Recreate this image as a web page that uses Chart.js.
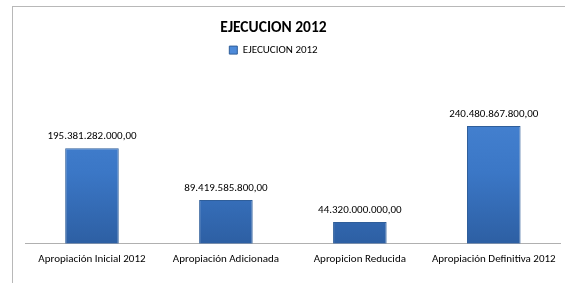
<!DOCTYPE html>
<html>
<head>
<meta charset="utf-8">
<script src="https://cdn.jsdelivr.net/npm/chart.js@4"></script>
<style>
  html, body { margin: 0; padding: 0; background: #fff; overflow: hidden; }
  #frame { position: absolute; left: 12px; top: 6px; width: 600px; height: 300px; border: 1px solid #b8b8b8; }
  #wrap { position: absolute; left: -15px; top: 0; width: 580px; height: 283px; }
</style>
</head>
<body>
<div id="frame"></div>
<div id="wrap"><canvas id="barChart"></canvas></div>
<script>
const categories = [
    'Apropiación Inicial 2012',
    'Apropiación Adicionada',
    'Apropicion Reducida',
    'Apropiación Definitiva 2012'
];
const ejecucion2012 = [195381282000, 89419585800, 44320000000, 240480867800];
const seriesName = 'EJECUCION 2012';
const chartTitle = 'EJECUCION 2012';

const fontFamily = 'Carlito, "Liberation Sans", Arial, sans-serif';

function formatValue(v) {
    let parts = v.toFixed(2).split('.');
    let intPart = parts[0].replace(/\B(?=(\d{3})+(?!\d))/g, '.');
    return intPart + ',' + parts[1];
}

// draws the numbers above each bar
const valueLabels = {
    id: 'valueLabels',
    afterDatasetsDraw(chart) {
        const ctx = chart.ctx;
        const meta = chart.getDatasetMeta(0);
        ctx.save();
        ctx.font = '11px ' + fontFamily;
        ctx.fillStyle = '#000';
        ctx.textAlign = 'center';
        ctx.textBaseline = 'middle';
        meta.data.forEach((bar, i) => {
            ctx.fillText(formatValue(chart.data.datasets[0].data[i]), bar.x, bar.y - 12);
        });
        ctx.restore();
    }
};

function barFill(context) {
    const chart = context.chart;
    const area = chart.chartArea;
    if (!area) return '#3c7bcc';
    const g = chart.ctx.createLinearGradient(0, area.top, 0, area.bottom);
    g.addColorStop(0, '#4d8ad9');
    g.addColorStop(0.6, '#3b77c6');
    g.addColorStop(1, '#2d5fa3');
    return g;
}

let barChart = new Chart(document.getElementById('barChart'), {
    type: 'bar',
    data: {
        labels: categories,
        datasets: [
            {
                label: seriesName,
                data: ejecucion2012,
                backgroundColor: barFill,
                borderColor: '#2f5e9a',
                borderWidth: 1,
                barPercentage: 0.4,
                categoryPercentage: 1
            }
        ]
    },
    plugins: [valueLabels],
    options: {
        responsive: true,
        maintainAspectRatio: false,
        animation: false,
        layout: {
            padding: { top: 8, right: 3, bottom: 8, left: 0 }
        },
        plugins: {
            title: {
                display: true,
                text: chartTitle,
                color: '#000',
                font: { size: 15.5, weight: 'bold', family: fontFamily },
                padding: { top: 10.5, bottom: 0 }
            },
            legend: {
                display: true,
                labels: {
                    color: '#000',
                    boxWidth: 8,
                    boxHeight: 8,
                    padding: 7.5,
                    font: { size: 11, family: fontFamily }
                }
            },
            tooltip: { enabled: false }
        },
        scales: {
            x: {
                grid: { display: false, drawTicks: false },
                border: { display: true, color: '#b0b0b0', width: 1 },
                ticks: {
                    color: '#000',
                    padding: 9,
                    maxRotation: 0,
                    font: { size: 11, family: fontFamily }
                }
            },
            y: {
                min: 0,
                max: 364000000000,
                display: true,
                grid: { display: false, drawTicks: false },
                border: { display: false },
                ticks: { display: false },
                afterFit: function (scale) { scale.width = 40; }
            }
        }
    }
});
</script>
</body>
</html>
